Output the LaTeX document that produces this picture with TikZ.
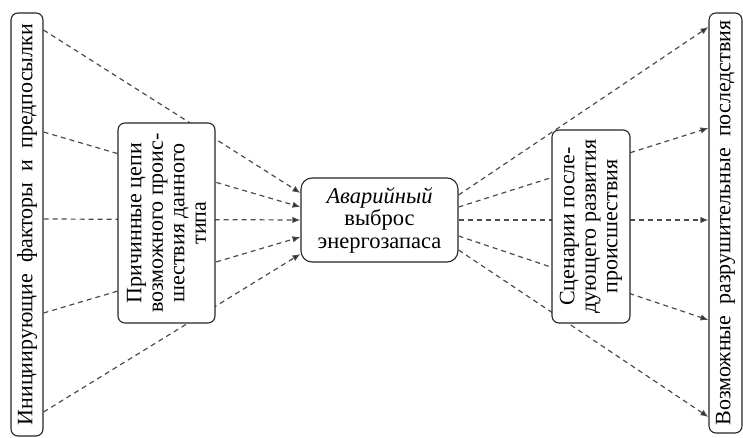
\documentclass[tikz,border=0pt]{standalone}
\usepackage{fontspec}
\setmainfont{Liberation Serif}
\usetikzlibrary{arrows.meta}
\begin{document}
\begin{tikzpicture}[x=1pt,y=-1pt,
  box/.style={draw=black!85, line width=1.1pt, rounded corners=7pt, fill=white,
    inner sep=0pt, align=center, font=\fontsize{22}{21.5}\selectfont},
  link/.style={draw=black!70, line width=1.2pt, dash pattern=on 5pt off 4pt},
  arr/.style={link, -{Latex[length=8pt,width=6.5pt,fill=black!90]}}]
\useasboundingbox (0,0) rectangle (743,438);

% outer columns and the central event
\node[box, rotate=90, minimum width=423pt, minimum height=32pt] (L) at (27,224.5)
  {Инициирующие\ \ факторы\ \ и\ \ предпосылки};
\node[box, rotate=90, minimum width=420pt, minimum height=33pt] (R) at (725.5,223)
  {Возможные\ \ разрушительные\ \ последствия};
\node[box, rounded corners=11pt, minimum width=157pt, minimum height=84pt,
  font=\fontsize{22.5}{22.5}\selectfont] (C) at (379.5,220)
  {\textit{Аварийный}\\выброс\\энергозапаса};

% links from the initiating factors to the central event
\draw[arr] (L.south |- 0,30)  -- (C.west |- 0,193);
\draw[arr] (L.south |- 0,132) -- (C.west |- 0,207);
\draw[arr] (L.south |- 0,219) -- (C.west |- 0,220);
\draw[arr] (L.south |- 0,313) -- (C.west |- 0,237);
\draw[arr] (L.south |- 0,412) -- (C.west |- 0,254);

% links from the central event to the consequences
\draw[arr] (C.east |- 0,195) -- (R.north |- 0,27);
\draw[arr] (C.east |- 0,207) -- (R.north |- 0,128);
\draw[arr] (C.east |- 0,220) -- (R.north |- 0,220);
\draw[arr] (C.east |- 0,236) -- (R.north |- 0,320);
\draw[arr] (C.east |- 0,250) -- (R.north |- 0,417);

% intermediate boxes laid over the links
\node[box, rotate=90, minimum width=200pt, minimum height=97pt] (P) at (166.5,223)
  {Причинные цепи\\возможного проис-\\шествия данного\\типа};
\node[box, rotate=90, minimum width=193pt, minimum height=78pt] (S) at (591,226.5)
  {Сценарии после-\\дующего развития\\происшествия};
\end{tikzpicture}
\end{document}
